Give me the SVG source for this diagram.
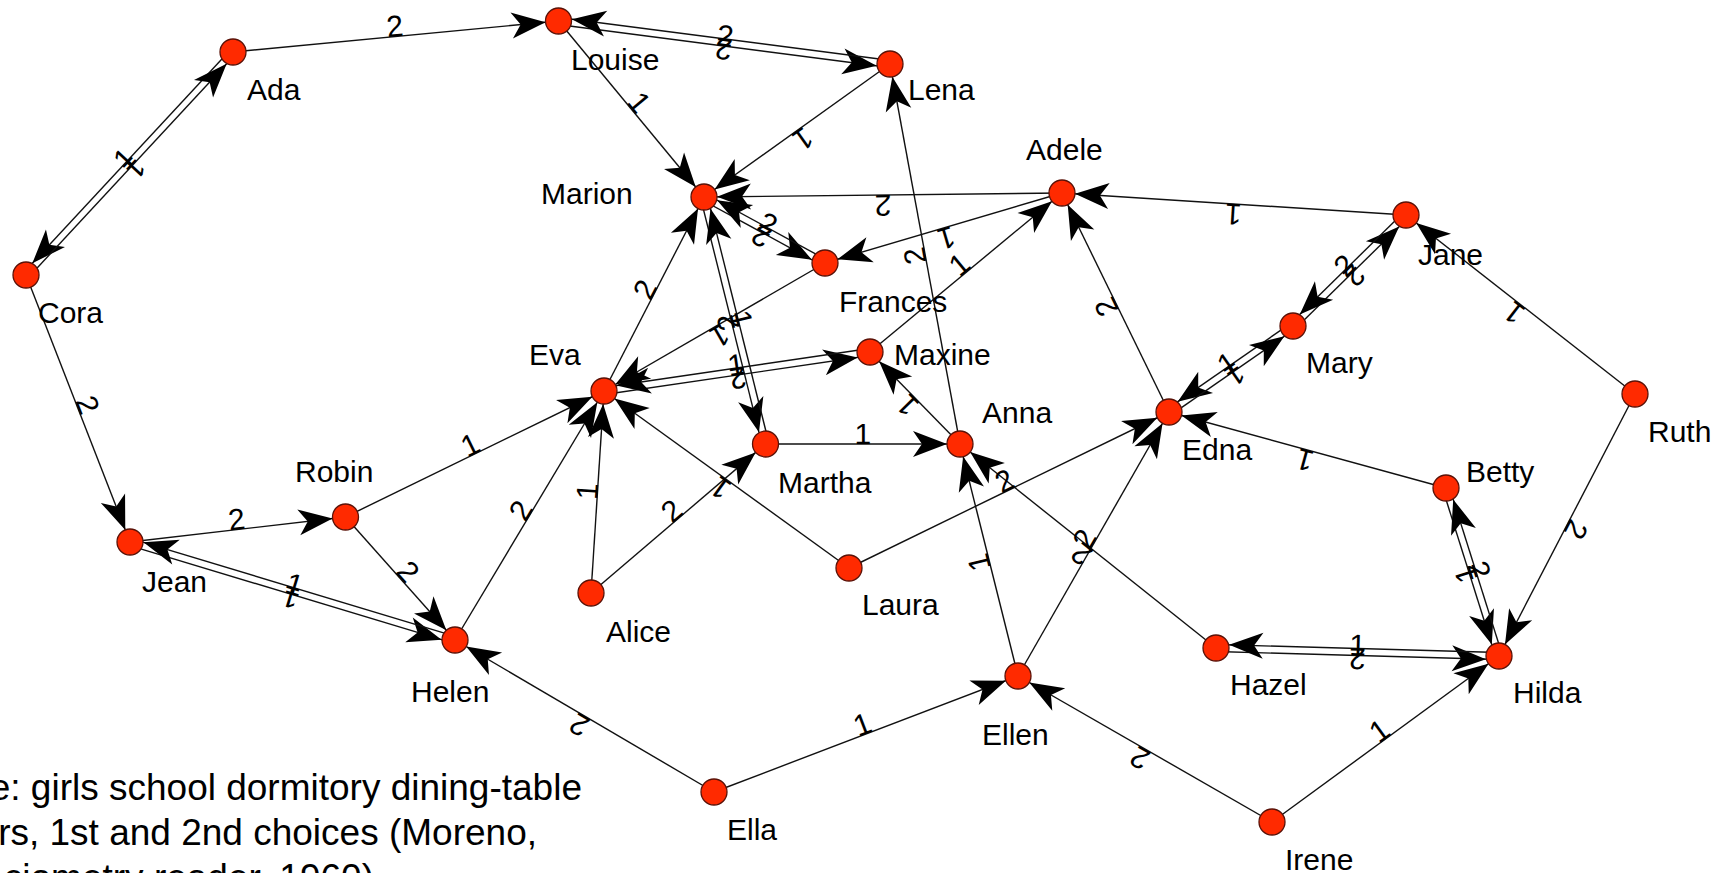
<svg xmlns="http://www.w3.org/2000/svg" width="1727" height="873" viewBox="0 0 1727 873">
<style>
.e{stroke:#111;stroke-width:1.4;fill:none;marker-end:url(#arr)}
.el{font-family:"Liberation Sans",Arial,sans-serif;font-size:30px;fill:#000}
.n circle{fill:#ff2a00;stroke:#5a1208;stroke-width:1.3}
.n text{font-family:"Liberation Sans",Arial,sans-serif;font-size:30px;fill:#000}
.cap{font-family:"Liberation Sans",Arial,sans-serif;font-size:37px;fill:#000;text-anchor:end}
</style>
<defs>
<marker id="arr" markerUnits="userSpaceOnUse" markerWidth="50" markerHeight="30" viewBox="-50 -15 50 30" refX="0" refY="0" orient="auto" overflow="visible">
<path d="M-13,0 L-47,-13 L-38,0 L-47,13 Z" fill="#000"/>
</marker>
</defs>
<rect width="1727" height="873" fill="#fff"/>
<g id="connectors">
<path id="e1" class="e" d="M233,52 L558.5,21"/>
<path id="e2" class="e" d="M558.5,21 L704,197"/>
<path id="e3" class="e" d="M890,64 L704,197"/>
<path id="e4" class="e" d="M960,444 L890,64"/>
<path id="e5" class="e" d="M1062,193 L704,197"/>
<path id="e6" class="e" d="M1062,193 L825,263"/>
<path id="e7" class="e" d="M1406,215 L1062,193"/>
<path id="e8" class="e" d="M870,352 L1062,193"/>
<path id="e9" class="e" d="M825,263 L604,391"/>
<path id="e10" class="e" d="M604,391 L704,197"/>
<path id="e11" class="e" d="M765.5,444 L960,444"/>
<path id="e12" class="e" d="M960,444 L870,352"/>
<path id="e13" class="e" d="M591,593 L604,391"/>
<path id="e14" class="e" d="M591,593 L765.5,444"/>
<path id="e15" class="e" d="M849,568 L604,391"/>
<path id="e16" class="e" d="M849,568 L1169,412"/>
<path id="e17" class="e" d="M345.5,517 L604,391"/>
<path id="e18" class="e" d="M455,640 L604,391"/>
<path id="e19" class="e" d="M130,542 L345.5,517"/>
<path id="e20" class="e" d="M26,275 L130,542"/>
<path id="e21" class="e" d="M345.5,517 L455,640"/>
<path id="e22" class="e" d="M714,792 L455,640"/>
<path id="e23" class="e" d="M714,792 L1018,676"/>
<path id="e24" class="e" d="M1272,822 L1018,676"/>
<path id="e25" class="e" d="M1272,822 L1499,656"/>
<path id="e26" class="e" d="M1018,676 L960,444"/>
<path id="e27" class="e" d="M1018,676 L1169,412"/>
<path id="e28" class="e" d="M1216,648 L960,444"/>
<path id="e29" class="e" d="M1635,394 L1499,656"/>
<path id="e30" class="e" d="M1635,394 L1406,215"/>
<path id="e31" class="e" d="M1446,488 L1169,412"/>
<path id="e32" class="e" d="M1169,412 L1062,193"/>
<path id="d1" class="e" d="M230.5,49.7 L23.5,272.7"/>
<path id="d2" class="e" d="M28.5,277.3 L235.5,54.3"/>
<path id="d3" class="e" d="M558,24.5 L889.5,67.5"/>
<path id="d4" class="e" d="M891,60.5 L559,17.5"/>
<path id="d5" class="e" d="M702.3,200 L823.3,266"/>
<path id="d6" class="e" d="M826.7,260 L705.7,194"/>
<path id="d7" class="e" d="M700.6,197.8 L762.1,444.8"/>
<path id="d8" class="e" d="M768.9,443.2 L707.4,196.2"/>
<path id="d9" class="e" d="M604.5,394.5 L870.5,355.5"/>
<path id="d10" class="e" d="M869.5,348.5 L603.5,387.5"/>
<path id="d11" class="e" d="M1291,323.1 L1167,409.1"/>
<path id="d12" class="e" d="M1171,414.9 L1295,328.9"/>
<path id="d13" class="e" d="M1295.5,328.5 L1408.5,217.5"/>
<path id="d14" class="e" d="M1403.5,212.5 L1290.5,323.5"/>
<path id="d15" class="e" d="M129,545.4 L454,643.4"/>
<path id="d16" class="e" d="M456,636.6 L131,538.6"/>
<path id="d17" class="e" d="M1215.9,651.5 L1498.9,659.5"/>
<path id="d18" class="e" d="M1499.1,652.5 L1216.1,644.5"/>
<path id="d19" class="e" d="M1442.7,489 L1495.7,657"/>
<path id="d20" class="e" d="M1502.3,655 L1449.3,487"/>
<g class="el" text-anchor="middle">
<text><textPath href="#e1" startOffset="50%">2</textPath></text>
<text><textPath href="#e2" startOffset="50%">1</textPath></text>
<text><textPath href="#e3" startOffset="50%">1</textPath></text>
<text><textPath href="#e4" startOffset="50%">2</textPath></text>
<text><textPath href="#e5" startOffset="50%">2</textPath></text>
<text><textPath href="#e6" startOffset="50%">1</textPath></text>
<text><textPath href="#e7" startOffset="50%">1</textPath></text>
<text><textPath href="#e8" startOffset="50%">1</textPath></text>
<text><textPath href="#e9" startOffset="50%">1</textPath></text>
<text><textPath href="#e10" startOffset="50%">2</textPath></text>
<text><textPath href="#e11" startOffset="50%">1</textPath></text>
<text><textPath href="#e12" startOffset="50%">1</textPath></text>
<text><textPath href="#e13" startOffset="50%">1</textPath></text>
<text><textPath href="#e14" startOffset="50%">2</textPath></text>
<text><textPath href="#e15" startOffset="50%">1</textPath></text>
<text><textPath href="#e16" startOffset="50%">2</textPath></text>
<text><textPath href="#e17" startOffset="50%">1</textPath></text>
<text><textPath href="#e18" startOffset="50%">2</textPath></text>
<text><textPath href="#e19" startOffset="50%">2</textPath></text>
<text><textPath href="#e20" startOffset="50%">2</textPath></text>
<text><textPath href="#e21" startOffset="50%">2</textPath></text>
<text><textPath href="#e22" startOffset="50%">2</textPath></text>
<text><textPath href="#e23" startOffset="50%">1</textPath></text>
<text><textPath href="#e24" startOffset="50%">2</textPath></text>
<text><textPath href="#e25" startOffset="50%">1</textPath></text>
<text><textPath href="#e26" startOffset="50%">1</textPath></text>
<text><textPath href="#e27" startOffset="50%">2</textPath></text>
<text><textPath href="#e28" startOffset="50%">2</textPath></text>
<text><textPath href="#e29" startOffset="50%">2</textPath></text>
<text><textPath href="#e30" startOffset="50%">1</textPath></text>
<text><textPath href="#e31" startOffset="50%">1</textPath></text>
<text><textPath href="#e32" startOffset="50%">2</textPath></text>
<text><textPath href="#d1" startOffset="50%">1</textPath></text>
<text><textPath href="#d2" startOffset="50%">1</textPath></text>
<text><textPath href="#d3" startOffset="50%">2</textPath></text>
<text><textPath href="#d4" startOffset="50%">2</textPath></text>
<text><textPath href="#d5" startOffset="50%">2</textPath></text>
<text><textPath href="#d6" startOffset="50%">2</textPath></text>
<text><textPath href="#d7" startOffset="50%">1</textPath></text>
<text><textPath href="#d8" startOffset="50%">2</textPath></text>
<text><textPath href="#d9" startOffset="50%">1</textPath></text>
<text><textPath href="#d10" startOffset="50%">2</textPath></text>
<text><textPath href="#d11" startOffset="50%">1</textPath></text>
<text><textPath href="#d12" startOffset="50%">1</textPath></text>
<text><textPath href="#d13" startOffset="50%">2</textPath></text>
<text><textPath href="#d14" startOffset="50%">2</textPath></text>
<text><textPath href="#d15" startOffset="50%">1</textPath></text>
<text><textPath href="#d16" startOffset="50%">1</textPath></text>
<text><textPath href="#d17" startOffset="50%">1</textPath></text>
<text><textPath href="#d18" startOffset="50%">2</textPath></text>
<text><textPath href="#d19" startOffset="50%">2</textPath></text>
<text><textPath href="#d20" startOffset="50%">1</textPath></text>
</g>
</g>
<g id="nodes">
<g id="n-ada" class="n"><circle cx="233" cy="52" r="13"/><text x="247" y="100">Ada</text></g>
<g id="n-louise" class="n"><circle cx="558.5" cy="21" r="13"/><text x="571" y="70">Louise</text></g>
<g id="n-lena" class="n"><circle cx="890" cy="64" r="13"/><text x="908" y="100">Lena</text></g>
<g id="n-cora" class="n"><circle cx="26" cy="275" r="13"/><text x="38" y="323">Cora</text></g>
<g id="n-marion" class="n"><circle cx="704" cy="197" r="13"/><text x="541" y="204">Marion</text></g>
<g id="n-adele" class="n"><circle cx="1062" cy="193" r="13"/><text x="1026" y="160">Adele</text></g>
<g id="n-jane" class="n"><circle cx="1406" cy="215" r="13"/><text x="1418" y="265">Jane</text></g>
<g id="n-frances" class="n"><circle cx="825" cy="263" r="13"/><text x="839" y="312">Frances</text></g>
<g id="n-maxine" class="n"><circle cx="870" cy="352" r="13"/><text x="894" y="365">Maxine</text></g>
<g id="n-eva" class="n"><circle cx="604" cy="391" r="13"/><text x="529" y="365">Eva</text></g>
<g id="n-mary" class="n"><circle cx="1293" cy="326" r="13"/><text x="1306" y="373">Mary</text></g>
<g id="n-edna" class="n"><circle cx="1169" cy="412" r="13"/><text x="1182" y="460">Edna</text></g>
<g id="n-anna" class="n"><circle cx="960" cy="444" r="13"/><text x="982" y="423">Anna</text></g>
<g id="n-martha" class="n"><circle cx="765.5" cy="444" r="13"/><text x="778" y="493">Martha</text></g>
<g id="n-ruth" class="n"><circle cx="1635" cy="394" r="13"/><text x="1648" y="442">Ruth</text></g>
<g id="n-robin" class="n"><circle cx="345.5" cy="517" r="13"/><text x="295" y="482">Robin</text></g>
<g id="n-betty" class="n"><circle cx="1446" cy="488" r="13"/><text x="1466" y="482">Betty</text></g>
<g id="n-jean" class="n"><circle cx="130" cy="542" r="13"/><text x="142" y="592">Jean</text></g>
<g id="n-alice" class="n"><circle cx="591" cy="593" r="13"/><text x="606" y="642">Alice</text></g>
<g id="n-laura" class="n"><circle cx="849" cy="568" r="13"/><text x="862" y="615">Laura</text></g>
<g id="n-helen" class="n"><circle cx="455" cy="640" r="13"/><text x="411" y="702">Helen</text></g>
<g id="n-hazel" class="n"><circle cx="1216" cy="648" r="13"/><text x="1230" y="695">Hazel</text></g>
<g id="n-hilda" class="n"><circle cx="1499" cy="656" r="13"/><text x="1513" y="703">Hilda</text></g>
<g id="n-ellen" class="n"><circle cx="1018" cy="676" r="13"/><text x="982" y="745">Ellen</text></g>
<g id="n-ella" class="n"><circle cx="714" cy="792" r="13"/><text x="727" y="840">Ella</text></g>
<g id="n-irene" class="n"><circle cx="1272" cy="822" r="13"/><text x="1285" y="870">Irene</text></g>
</g>
<g id="caption">
<text class="cap" x="582" y="800">e: girls school dormitory dining-table</text>
<text class="cap" x="537" y="845">rs, 1st and 2nd choices (Moreno,</text>
<text class="cap" x="374" y="890">ciometry reader, 1960)</text>
</g>
</svg>
